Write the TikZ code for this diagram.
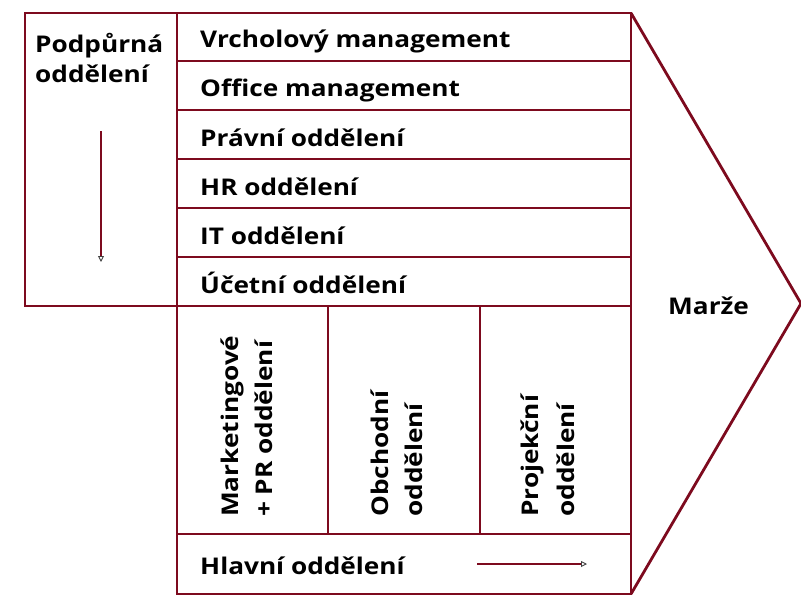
\documentclass[tikz,border=0pt]{standalone}
\usepackage{fontspec}
\setmainfont{Open Sans}[FakeStretch=1.14, BoldFeatures={FakeStretch=1.14}]
\usetikzlibrary{arrows.meta}
\definecolor{maroon}{HTML}{7D0A1E}
\tikzset{
  frame/.style={draw=maroon, line width=2.8pt, line join=miter},
  lbl/.style={font=\bfseries\fontsize{23}{30}\selectfont, inner sep=0pt, text=black, anchor=base west},
  vlbl/.style={lbl, rotate=90},
  flow/.style={draw=maroon, line width=2.2pt, -{Triangle[open, length=6pt, width=6pt, line width=0.9pt, color=black!75, fill=white]}}
}
\begin{document}
\begin{tikzpicture}[x=1pt, y=-1pt]
\useasboundingbox (0,0) rectangle (801,598);
% coordinates
\coordinate (lt) at (25,13);
\coordinate (mt) at (177,13);
\coordinate (rt) at (631,13);
\coordinate (rb) at (631,594);
\coordinate (tip) at (801,303.5);
% left box
\draw[frame] (lt) rectangle (177,306);
% main column
\draw[frame] (mt) rectangle (rb);
% row separators
\foreach \y in {61,110,159,208,257,306,534}
  \draw[frame] (177,\y) -- (631,\y);
% column separators
\foreach \x in {328,480}
  \draw[frame] (\x,306) -- (\x,534);
% triangle
\draw[frame] (rt) -- (tip) -- (rb);
% labels
\node[lbl] (r1) at (200,47) {Vrcholový management};
\node[lbl] (r2) at (200,96) {Office management};
\node[lbl] (r3) at (200,146) {Právní oddělení};
\node[lbl] (r4) at (200,195) {HR oddělení};
\node[lbl] (r5) at (200,244) {IT oddělení};
\node[lbl] (r6) at (200,293) {Účetní oddělení};
\node[lbl] (pod1) at (35,52) {Podpůrná};
\node[lbl] (pod2) at (35,82) {oddělení};
\node[vlbl] (mk1) at (238,517) {Marketingové};
\node[vlbl] (mk2) at (272,517) {+ PR oddělení};
\node[vlbl] (ob1) at (388,517) {Obchodní};
\node[vlbl] (ob2) at (422,517) {oddělení};
\node[vlbl] (pj1) at (538,517) {Projekční};
\node[vlbl] (pj2) at (574,517) {oddělení};
\node[lbl] (hl) at (200,574) {Hlavní oddělení};
\node[lbl] (mz) at (668,314) {Marže};
% arrows
\coordinate (a1s) at (101,131);
\coordinate (a1e) at (101,262);
\coordinate (a2s) at (477,564);
\coordinate (a2e) at (587,564);
\draw[flow] (a1s) -- (a1e);
\draw[flow] (a2s) -- (a2e);
\end{tikzpicture}
\end{document}
